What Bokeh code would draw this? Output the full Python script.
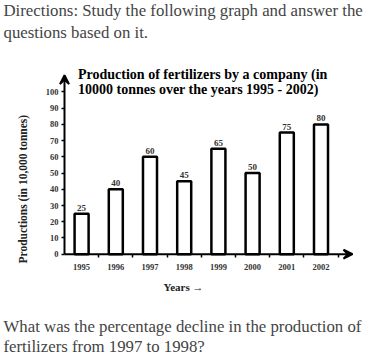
from bokeh.plotting import figure
from bokeh.models import (Range1d, FixedTicker, Label, Arrow, VeeHead, ColumnDataSource, Title)
from bokeh.core.properties import value
from bokeh.embed import file_html
from bokeh.resources import INLINE

# ---- data ----
years = ["1995", "1996", "1997", "1998", "1999", "2000", "2001", "2002"]
production = [25, 40, 60, 45, 65, 50, 75, 80]
y_ticks = [0, 10, 20, 30, 40, 50, 60, 70, 80, 90, 100]

title_lines = ["Production of  fertilizers by a company (in",
               "10000 tonnes over the years 1995 - 2002)"]
header_text = "Directions: Study the following graph and answer the\nquestions based on it."
footer_text = "What was the percentage decline in the production of\nfertilizers from 1997 to 1998?"
x_label = "Years \u2192"
y_label = "Productions (in 10,000 tonnes)"

SERIF = "Liberation Serif"

W, H = 370, 356
FL, FR, FT, FB = 29, 358, 40, 318        # frame edges on the canvas
X0, Y0 = 64, 253                          # canvas position of data (0, 0)
SX, SY = 34.2, 1.64                       # px per data unit
def fx(ix):
    return (ix - X0) / SX
def fy(iy):
    return (Y0 - iy) / SY

p = figure(width=W, height=H, output_backend="svg", toolbar_location=None,
           x_range=Range1d(fx(FL), fx(FR)), y_range=Range1d(fy(FB), fy(FT)),
           min_border_left=FL, min_border_right=W - FR,
           min_border_top=FT, min_border_bottom=H - FB)
p.title.visible = False
p.outline_line_color = None
p.grid.visible = False
p.background_fill_color = "white"

xs = [i + 0.5 for i in range(len(years))]
src = ColumnDataSource(dict(x=xs, top=production, lab=[str(v) for v in production]))
p.vbar(x="x", top="top", bottom=0, width=0.41, source=src,
       fill_color="white", line_color="black", line_width=2.5)
p.text(x="x", y="top", text="lab", source=src, y_offset=-3,
       text_align="center", text_baseline="bottom",
       text_font=value(SERIF), text_font_style="bold",
       text_font_size="9px", text_color="#333333")

# y axis
ya = p.yaxis[0]
ya.fixed_location = 0
ya.ticker = FixedTicker(ticks=y_ticks)
ya.axis_line_color = None
ya.major_tick_out = 3
ya.major_tick_in = 0
ya.major_tick_line_width = 1.5
ya.minor_tick_line_color = None
ya.major_label_standoff = 3
ya.major_label_text_font = SERIF
ya.major_label_text_font_style = "bold"
ya.major_label_text_font_size = "8.5px"
ya.major_label_text_color = "#333333"

# x axis
xa = p.xaxis[0]
xa.fixed_location = 0
xa.ticker = FixedTicker(ticks=xs, minor_ticks=list(range(1, len(years) + 1)))
xa.major_label_overrides = {x: y for x, y in zip(xs, years)}
xa.axis_line_color = None
xa.major_tick_line_color = None
xa.major_tick_out = 0
xa.major_tick_in = 0
xa.minor_tick_out = 3
xa.minor_tick_in = 0
xa.minor_tick_line_width = 1.5
xa.major_label_standoff = 7
xa.major_label_text_font = SERIF
xa.major_label_text_font_style = "bold"
xa.major_label_text_font_size = "8.5px"
xa.major_label_text_color = "#333333"

# axis lines with arrow heads
p.add_layout(Arrow(end=VeeHead(size=9, line_width=2, fill_color="black"),
                   x_start=0, y_start=0, x_end=fx(352), y_end=0,
                   line_width=2, line_color="black"))
p.add_layout(Arrow(end=VeeHead(size=9, line_width=2, fill_color="black"),
                   x_start=0, y_start=0, x_end=0, y_end=fy(72),
                   line_width=2, line_color="black"))

def add_label(text, ix, iy, size, bold=False, align="left", color="black"):
    p.add_layout(Label(x=fx(ix), y=fy(iy), text=text, text_font=SERIF,
                       text_font_size=size, text_font_style="bold" if bold else "normal",
                       text_align=align, text_baseline="alphabetic", text_color=color))

# chart title and x label (inside the frame)
add_label(title_lines[0], 77.5, 71, "14px", bold=True)
add_label(title_lines[1], 77.5, 87, "14px", bold=True)
add_label(x_label, 183, 286, "11px", bold=True, align="center", color="#222222")

# header, footer, y label in the side panels
p.add_layout(Title(text=header_text, align="left", offset=3 - FL, vertical_align="top",
                   text_font=SERIF, text_font_size="16.8px", text_font_style="normal",
                   text_line_height=1.18, standoff=0), "above")
p.add_layout(Title(text=footer_text, align="left", offset=3 - FL, vertical_align="bottom",
                   text_font=SERIF, text_font_size="16.8px", text_font_style="normal",
                   text_line_height=1.1, standoff=-8), "below")
p.add_layout(Title(text=y_label, align="left", offset=FB - 263, vertical_align="middle",
                   text_font=SERIF, text_font_size="11.5px", text_font_style="bold",
                   text_color="#222222", standoff=0), "left")

open("out.html", "w").write(file_html(p, INLINE))
